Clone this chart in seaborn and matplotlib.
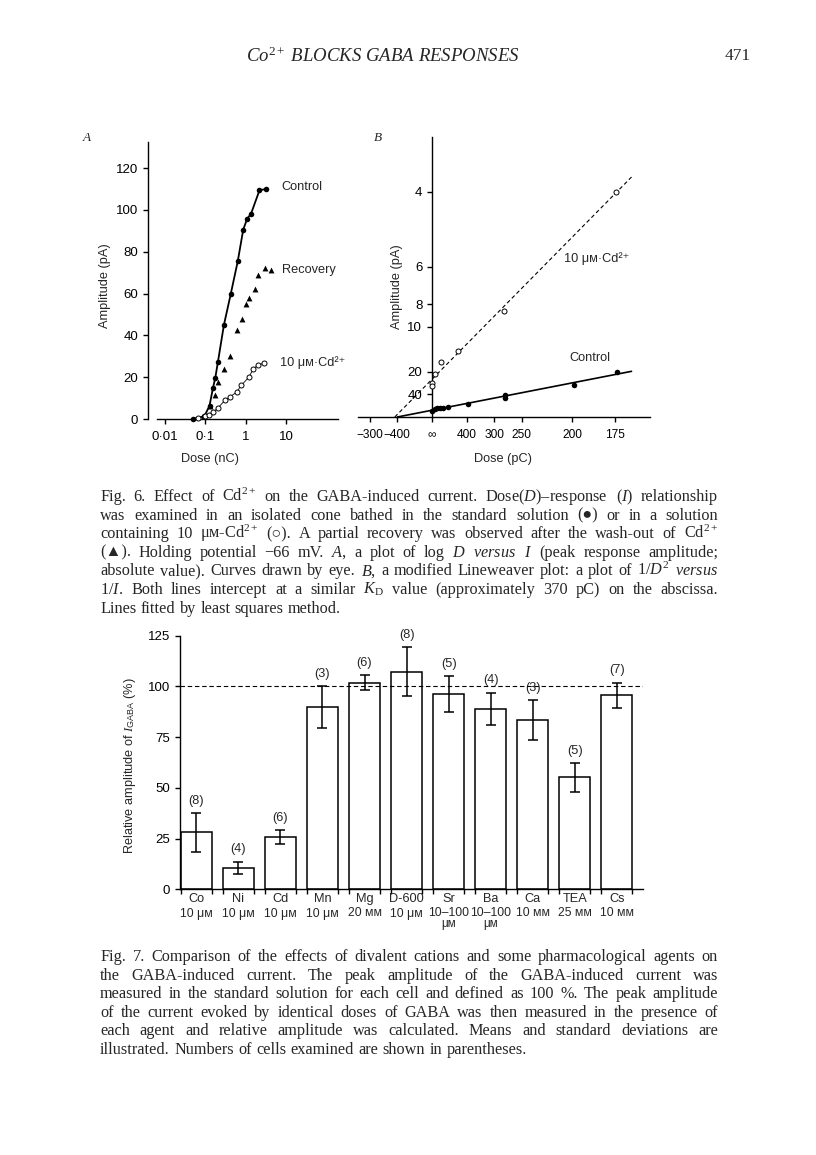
import numpy as np
import pandas as pd
import matplotlib
matplotlib.use("Agg")
import matplotlib.pyplot as plt
import matplotlib.transforms as mtransforms
from matplotlib.ticker import FixedLocator, NullLocator
import seaborn as sns

# ---------------- data ----------------
# Fig 6A : dose (nC) vs amplitude (pA)
ctrlA_dose = [0.049, 0.094, 0.126, 0.153, 0.175, 0.204, 0.286, 0.42, 0.63, 0.86, 1.08, 1.33, 2.17, 3.1]
ctrlA_amp = [0, 1.3, 6.4, 14.8, 19.7, 27.5, 45, 59.6, 75.5, 90.6, 95.9, 98, 109.4, 110]
recA_dose = [0.094, 0.126, 0.175, 0.2, 0.28, 0.40, 0.59, 0.81, 1.02, 1.2, 1.64, 2.05, 2.89, 4.1]
recA_amp = [1.6, 6.4, 11.6, 17.6, 23.8, 29.9, 42.6, 47.7, 54.8, 57.7, 62, 68.7, 72.3, 71.2]
cdA_dose = [0.064, 0.096, 0.12, 0.15, 0.2, 0.3, 0.4, 0.59, 0.77, 1.19, 1.5, 1.98, 2.78]
cdA_amp = [0.3, 1.3, 1.7, 3.2, 5.1, 8.9, 10.5, 12.9, 16.1, 20, 23.8, 25.8, 26.7]

# Fig 6B : dose (pC) vs amplitude (pA), plotted as 1/D^2 vs 1/I
ctrlB_dose = [np.inf, 1443, 1026, 836, 725, 587, 392, 278, 278, 199, 174]
ctrlB_amp = [142, 112, 104, 104, 102, 87, 67.6, 41.7, 48.3, 27.8, 20]
cdB_dose = [np.inf, np.inf, 1443, 803, 466, 279.5, 174.6]
cdB_amp = [26.5, 28.7, 20.8, 16.4, 13.6, 8.5, 4.0]
B_xtick_dose = [-300, -400, np.inf, 400, 300, 250, 200, 175]
B_xtick_labels = ["\u2212300", "\u2212400", "\u221e", "400", "300", "250", "200", "175"]
B_ytick_amp = [4, 6, 8, 10, 20, 40]

# Fig 7 : relative amplitude (%)
agents = ["Co", "Ni", "Cd", "Mn", "Mg", "D-600", "Sr", "Ba", "Ca", "TEA", "Cs"]
concs = ["10 \u03bc\u043c", "10 \u03bc\u043c", "10 \u03bc\u043c", "10 \u03bc\u043c", "20 \u043c\u043c",
         "10 \u03bc\u043c", "10\u2013100", "10\u2013100", "10 \u043c\u043c",
         "25 \u043c\u043c", "10 \u043c\u043c"]
conc_units = ["", "", "", "", "", "", "\u03bc\u043c", "\u03bc\u043c", "", "", ""]
rel_mean = [28, 10.7, 25.6, 90, 101.7, 107.3, 96.3, 89, 83.3, 55.2, 95.6]
rel_sd = [9.8, 3.0, 3.4, 10.3, 3.7, 12.0, 8.9, 8.0, 9.8, 7.1, 6.3]
n_cells = [8, 4, 6, 3, 6, 8, 5, 4, 3, 5, 7]

# ---------------- style ----------------
sns.set_style("ticks")
plt.rcParams["font.family"] = ["Liberation Sans", "DejaVu Sans"]
plt.rcParams["mathtext.fontset"] = "custom"
plt.rcParams["mathtext.rm"] = "Liberation Serif"
plt.rcParams["mathtext.it"] = "Liberation Serif:italic"
plt.rcParams["mathtext.bf"] = "Liberation Serif:bold"
plt.rcParams["mathtext.sf"] = "Liberation Sans"
plt.rcParams["axes.linewidth"] = 1.0
plt.rcParams["xtick.major.width"] = 1.0
plt.rcParams["ytick.major.width"] = 1.0
plt.rcParams["xtick.major.size"] = 3.5
plt.rcParams["ytick.major.size"] = 3.5
plt.rcParams["xtick.labelsize"] = 9.5
plt.rcParams["ytick.labelsize"] = 9.5
plt.rcParams["xtick.color"] = "black"
plt.rcParams["ytick.color"] = "black"
plt.rcParams["axes.edgecolor"] = "black"

W, H = 816, 1155
fig = plt.figure(figsize=(W / 100, H / 100), dpi=100)
fig.patch.set_facecolor("white")

SERIF = ["Liberation Serif", "DejaVu Sans"]
SANS = ["Liberation Sans", "DejaVu Sans"]
LBL = 9.2


def px_axes(l, t, r, b):
    return fig.add_axes([l / W, 1 - b / H, (r - l) / W, (b - t) / H])


def ftext(x, y, s, **kw):
    return fig.text(x / W, 1 - y / H, s, **kw)


# ---------------- header ----------------
ftext(383, 56, "Co$^{2+}$ BLOCKS GABA RESPONSES", ha="center", va="center",
      family=SERIF, style="italic", fontsize=13.5)
ftext(738, 56, "471", ha="center", va="center", family=SERIF, fontsize=12.5)
ftext(87, 138, "A", ha="center", va="center", family=SERIF, style="italic", fontsize=9.5)
ftext(378, 138, "B", ha="center", va="center", family=SERIF, style="italic", fontsize=9.5)

# ---------------- Fig 6A ----------------
axA = px_axes(157, 142, 338, 419)
axA.set_xscale("log")
axA.set_xlim(10 ** -2.2, 10 ** 2.28)
axA.set_ylim(0, 132.5)
sns.despine(ax=axA)
axA.spines["left"].set_position(("outward", 6.5))
axA.set_yticks([0, 20, 40, 60, 80, 100, 120])
axA.set_xticks([0.01, 0.1, 1, 10])
axA.set_xticklabels(["0\u00b701", "0\u00b71", "1", "10"])
axA.xaxis.set_minor_locator(NullLocator())
axA.tick_params(axis="x", pad=5)
axA.set_facecolor("none")

sns.lineplot(x=ctrlA_dose, y=ctrlA_amp, ax=axA, color="black", lw=1.3, sort=False,
             estimator=None)
sns.lineplot(x=cdA_dose, y=cdA_amp, ax=axA, color="black", lw=0.6, sort=False,
             estimator=None)
sns.scatterplot(x=ctrlA_dose, y=ctrlA_amp, ax=axA, color="black", s=16, marker="o",
                linewidth=0, clip_on=False, zorder=4)
sns.scatterplot(x=recA_dose, y=recA_amp, ax=axA, color="black", s=18, marker="^",
                linewidth=0, clip_on=False, zorder=4)
sns.scatterplot(x=cdA_dose, y=cdA_amp, ax=axA, facecolor="white", edgecolor="black",
                s=13, marker="o", linewidth=0.7, clip_on=False, zorder=5)
axA.set_xlabel("")
axA.set_ylabel("")

ftext(281, 187, "Control", ha="left", va="center", family=SANS, fontsize=LBL)
ftext(282, 270, "Recovery", ha="left", va="center", family=SANS, fontsize=LBL)
ftext(280, 363, "10 \u03bc\u043c\u00b7Cd\u00b2\u207a", ha="left", va="center", family=SANS,
      fontsize=LBL)
ftext(105, 286, "Amplitude (pA)", rotation=90, ha="center", va="center", family=SANS,
      fontsize=LBL)
ftext(210, 459, "Dose (nC)", ha="center", va="center", family=SANS, fontsize=LBL)

# ---------------- Fig 6B ----------------
def inv_sq(d):
    d = np.asarray(d, dtype=float)
    return np.sign(d) * 1e6 / d ** 2


axB = px_axes(358, 137, 650, 417)
axB.set_xlim(-13.2, 38.9)
axB.set_ylim(0, 0.311)
axB.spines["top"].set_visible(False)
axB.spines["right"].set_visible(False)
axB.spines["left"].set_position(("data", 0))
axB.set_facecolor("none")
axB.set_xticks(inv_sq(B_xtick_dose))
axB.set_xticklabels(B_xtick_labels)
axB.set_yticks(1.0 / np.asarray(B_ytick_amp, dtype=float))
axB.set_yticklabels([str(v) for v in B_ytick_amp])
axB.tick_params(axis="x", pad=5, labelsize=8.6)

ux_c = inv_sq(ctrlB_dose)
vy_c = 1.0 / np.asarray(ctrlB_amp)
ux_d = inv_sq(cdB_dose)
vy_d = 1.0 / np.asarray(cdB_amp)

pc = np.polyfit(ux_c, vy_c, 1)
pd_ = np.polyfit(ux_d, vy_d, 1)
u_end = 35.6
xc = np.array([-pc[1] / pc[0], u_end])
xd = np.array([-pd_[1] / pd_[0], u_end])
axB.plot(xc, np.polyval(pc, xc), color="black", lw=1.2, clip_on=False)
axB.plot(xd, np.polyval(pd_, xd), color="black", lw=0.8, ls=(0, (3.5, 2.5)), clip_on=False)

sns.scatterplot(x=ux_c, y=vy_c, ax=axB, color="black", s=16, marker="o", linewidth=0,
                clip_on=False, zorder=4)
sns.scatterplot(x=ux_d, y=vy_d, ax=axB, facecolor="white", edgecolor="black", s=13,
                marker="o", linewidth=0.7, clip_on=False, zorder=5)
axB.set_xlabel("")
axB.set_ylabel("")

ftext(597, 259, "10 \u03bc\u043c\u00b7Cd\u00b2\u207a", ha="center", va="center", family=SANS,
      fontsize=LBL)
ftext(590, 358, "Control", ha="center", va="center", family=SANS, fontsize=LBL)
ftext(397, 287, "Amplitude (pA)", rotation=90, ha="center", va="center", family=SANS,
      fontsize=LBL)
ftext(503, 459, "Dose (pC)", ha="center", va="center", family=SANS, fontsize=LBL)

# ---------------- justified caption helper ----------------
renderer = fig.canvas.get_renderer()


def caption(lines, x0, x1, y_first, dy, size):
    for k, line in enumerate(lines):
        words = [w for w in line.split(" ") if w != ""]
        y = y_first + k * dy
        texts = []
        widths = []
        for w in words:
            t = fig.text(0, 0, w, fontsize=size, family=SERIF, ha="left", va="baseline")
            texts.append(t)
            widths.append(t.get_window_extent(renderer).width)
        if k == len(lines) - 1 or len(words) == 1:
            gap = size * 100 / 72 * 0.27
        else:
            gap = (x1 - x0 - sum(widths)) / (len(words) - 1)
        x = x0
        for t, wd in zip(texts, widths):
            t.set_position((x / W, 1 - y / H))
            x += wd + gap


fig6_lines = [
    "Fig. 6.  Effect of Cd$^{2+}$ on the GABA-induced current. Dose($D$)\u2013response ($I$) relationship",
    "was examined in an isolated cone bathed in the standard solution (\u25cf) or in a solution",
    "containing 10 \u03bc\u043c-Cd$^{2+}$ (\u25cb). A partial recovery was observed after the wash-out of Cd$^{2+}$",
    "(\u25b2). Holding potential \u221266 mV. $A$, a plot of log $D$ $\\mathit{versus}$ $I$ (peak response amplitude;",
    "absolute value). Curves drawn by eye. $B$, a modified Lineweaver plot: a plot of 1/$D^2$ $\\mathit{versus}$",
    "1/$I$. Both lines intercept at a similar $K_{\\mathrm{D}}$ value (approximately 370 pC) on the abscissa.",
    "Lines fitted by least squares method.",
]
caption(fig6_lines, 100, 718, 501, 18.6, 11.7)

# ---------------- Fig 7 ----------------
ax7 = px_axes(180, 635.7, 643, 889.3)
df7 = pd.DataFrame({"agent": agents, "mean": rel_mean, "sd": rel_sd})
sns.barplot(data=df7, x="agent", y="mean", ax=ax7, color="white", edgecolor="black",
            linewidth=1.1, width=0.74, saturation=1, errorbar=None)
xpos = np.arange(len(agents))
ax7.errorbar(xpos, rel_mean, yerr=rel_sd, fmt="none", ecolor="black", elinewidth=1.1,
             capsize=3.5, capthick=1.1, zorder=5)
ax7.axhline(100, color="black", lw=0.8, ls=(0, (4, 2.5)), zorder=6)
ax7.set_xlim(-0.386, 10.62)
ax7.set_ylim(0, 125)
sns.despine(ax=ax7)
ax7.set_facecolor("none")
ax7.set_yticks([0, 25, 50, 75, 100, 125])
ax7.set_xticks(xpos)
ax7.set_xticklabels([])
ax7.tick_params(axis="x", which="major", length=0)
edges = np.concatenate([xpos - 0.37, xpos + 0.37])
ax7.xaxis.set_minor_locator(FixedLocator(edges))
ax7.tick_params(axis="x", which="minor", length=3.5, width=1.0, direction="out")
ax7.set_xlabel("")
ax7.set_ylabel("")

for i in range(len(agents)):
    ax7.text(xpos[i], rel_mean[i] + rel_sd[i] + 3.0, "(%d)" % n_cells[i], ha="center",
             va="bottom", family=SANS, fontsize=LBL)

btf = mtransforms.blended_transform_factory(ax7.transData, fig.transFigure)
for i in range(len(agents)):
    ax7.text(xpos[i], 1 - 899 / H, agents[i], transform=btf, ha="center", va="center",
             family=SANS, fontsize=LBL)
    ax7.text(xpos[i], 1 - 913.5 / H, concs[i], transform=btf, ha="center", va="center",
             family=SANS, fontsize=8.8)
    if conc_units[i]:
        ax7.text(xpos[i], 1 - 924 / H, conc_units[i], transform=btf, ha="center",
                 va="center", family=SANS, fontsize=8.4)

ftext(130, 766, "Relative amplitude of $\\mathit{I}_{\\mathsf{GABA}}$ (%)", rotation=90,
      ha="center", va="center", family=SANS, fontsize=LBL)

fig7_lines = [
    "Fig. 7.  Comparison of the effects of divalent cations and some pharmacological agents on",
    "the GABA-induced current. The peak amplitude of the GABA-induced current was",
    "measured in the standard solution for each cell and defined as 100 %. The peak amplitude",
    "of the current evoked by identical doses of GABA was then measured in the presence of",
    "each agent and relative amplitude was calculated. Means and standard deviations are",
    "illustrated. Numbers of cells examined are shown in parentheses.",
]
caption(fig7_lines, 100, 718, 961, 18.6, 11.7)

fig.savefig("out.png", dpi=100, facecolor="white")
